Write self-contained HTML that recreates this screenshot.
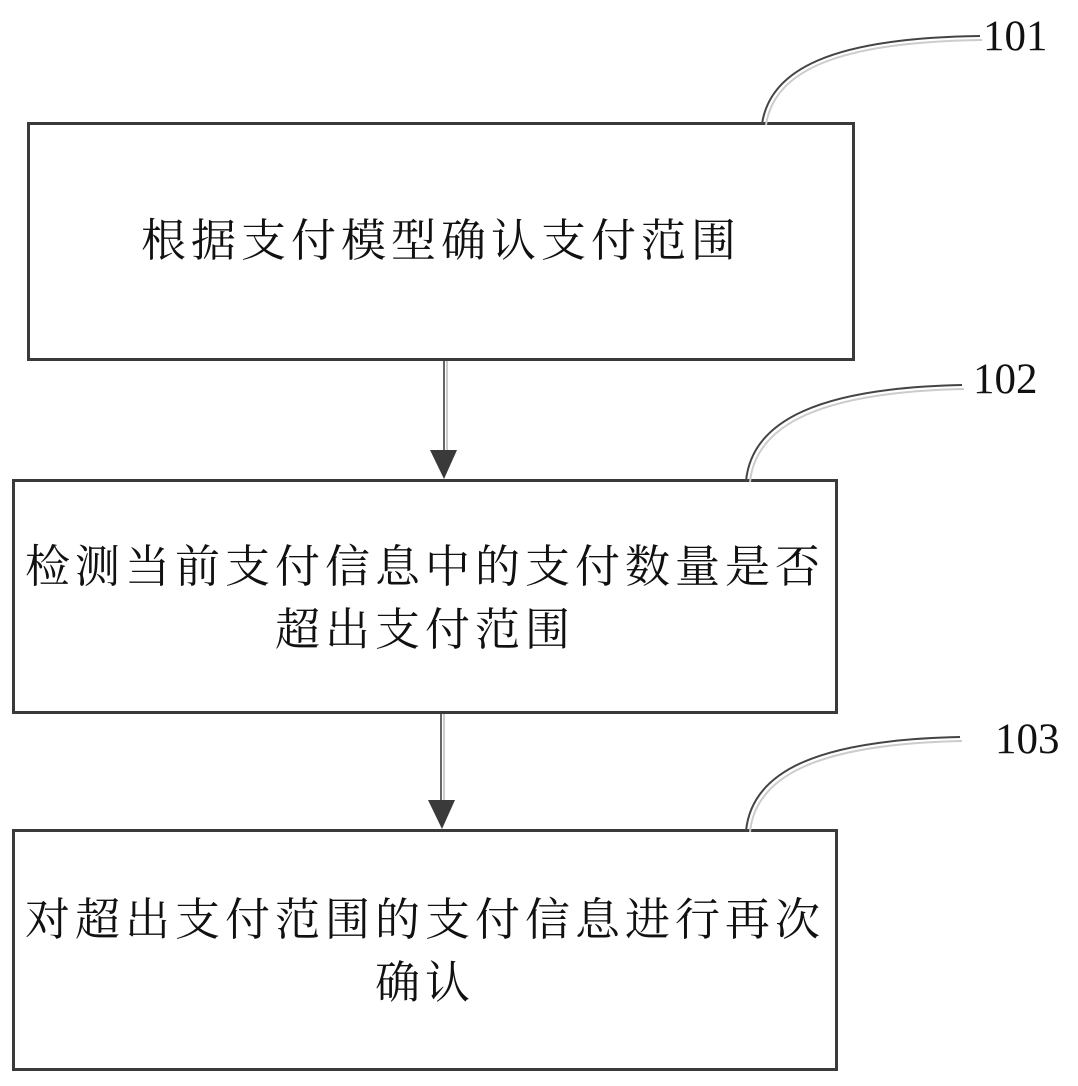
<!DOCTYPE html>
<html><head><meta charset="utf-8"><style>
html,body{margin:0;padding:0;background:#fff;}
body{width:1078px;height:1086px;position:relative;overflow:hidden;font-family:"Liberation Serif","Noto Serif CJK SC",serif;}
.box{position:absolute;border:3px solid #3a3a3a;box-sizing:border-box;display:flex;align-items:center;justify-content:center;text-align:center;font-size:45px;letter-spacing:5px;line-height:63px;color:#111;font-family:"Liberation Serif","Noto Serif CJK SC",serif;}
.lbl{position:absolute;font-size:43px;color:#111;}
</style></head><body>
<div class="box" style="left:27px;top:122px;width:828px;height:239px;">根据支付模型确认支付范围</div>
<div class="box" style="left:12px;top:479px;width:826px;height:235px;padding-top:4px;">检测当前支付信息中的支付数量是否<br>超出支付范围</div>
<div class="box" style="left:12px;top:829px;width:826px;height:242px;padding-top:3px;">对超出支付范围的支付信息进行再次<br>确认</div>
<div class="lbl" style="left:983px;top:12px;">101</div>
<div class="lbl" style="left:973px;top:355px;">102</div>
<div class="lbl" style="left:995px;top:715px;">103</div>
<svg width="1078" height="1086" style="position:absolute;left:0;top:0;">
<g fill="none" stroke="#444" stroke-width="2">
<path d="M762 124 C770 70 830 38 980 36"/>
<path d="M746 481 C752 420 820 388 962 385"/>
<path d="M746 831 C752 770 820 740 960 737"/>
<line x1="444" y1="361" x2="444" y2="452" stroke="#666"/>
<line x1="441" y1="714" x2="441" y2="802" stroke="#666"/>
</g>
<g fill="none" stroke="#ccc" stroke-width="2">
<path d="M766 125 C774 72 834 42 982 40"/>
<path d="M750 482 C756 423 824 392 964 389"/>
<path d="M750 832 C756 773 824 744 962 741"/>
<line x1="447" y1="361" x2="447" y2="452"/>
<line x1="444" y1="714" x2="444" y2="802"/>
</g>
<polygon points="430,450 457,450 444,479" fill="#3a3a3a"/>
<polygon points="428,800 455,800 442,829" fill="#3a3a3a"/>
</svg>
</body></html>
